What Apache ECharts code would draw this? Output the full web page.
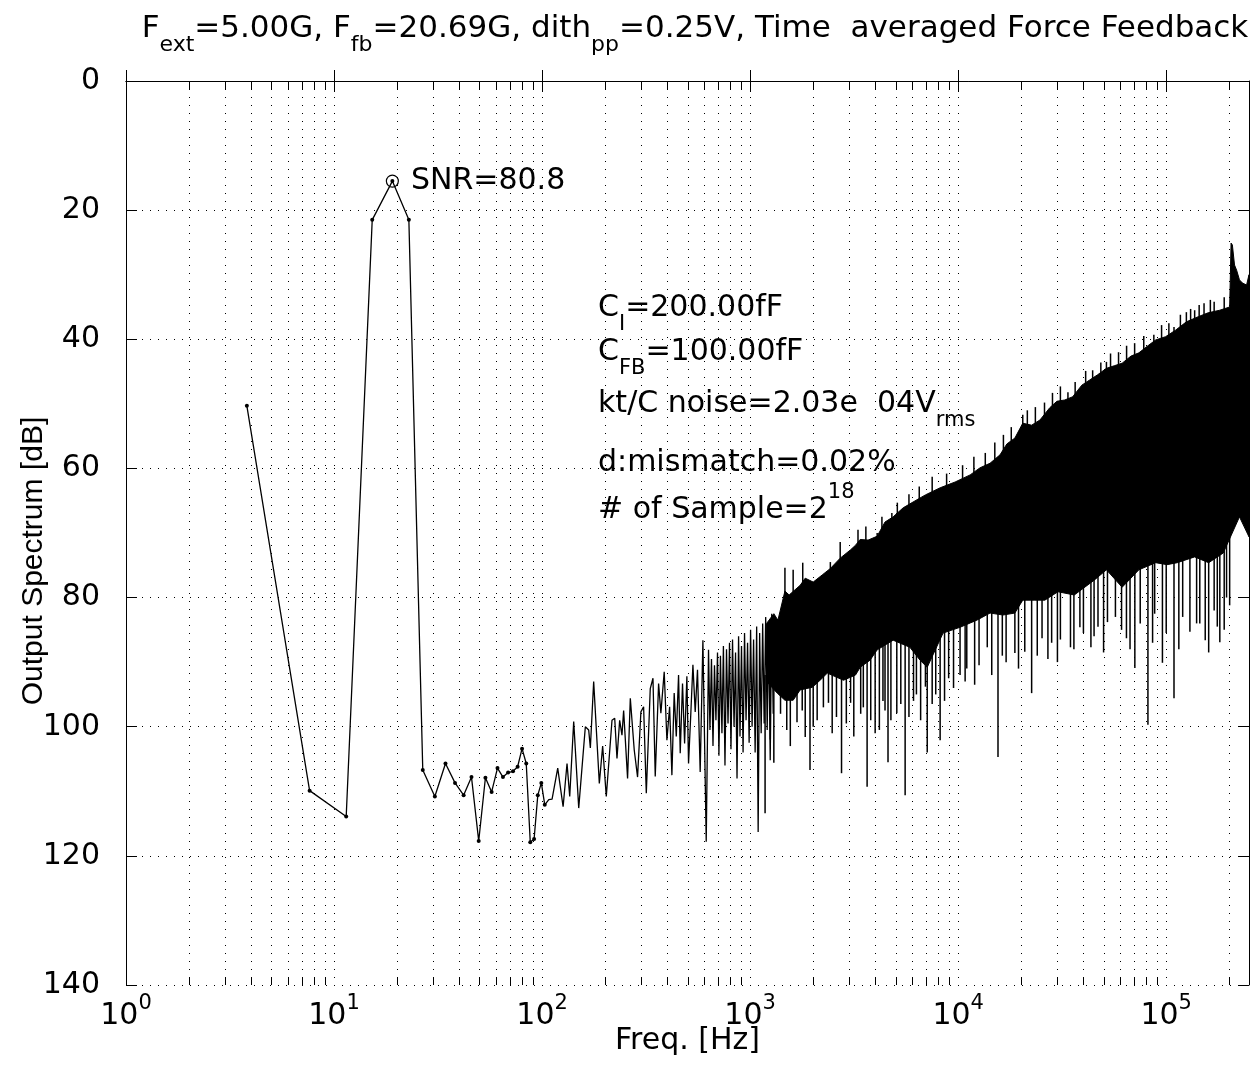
<!DOCTYPE html>
<html>
<head>
<meta charset="utf-8">
<script src="https://cdn.jsdelivr.net/npm/echarts@6/dist/echarts.min.js"></script>
<style>
  html, body { margin: 0; padding: 0; background: #fff; }
  #chart { width: 1251px; height: 1065px; }
</style>
</head>
<body>
<div id="chart"></div>
<script>
// FFT bins below ~100 Hz (each shown with a dot)
const lowFreq = [3.81, 7.63, 11.44, 15.26, 19.07, 22.89, 26.70, 30.52, 34.33, 38.15, 41.96, 45.78, 49.59,
  53.41, 57.22, 61.04, 64.85, 68.66, 72.48, 76.29, 80.11, 83.92, 87.74, 91.55, 95.37, 99.18, 103.0];
const lowDb = [50.3, 109.9, 113.9, 21.5, 15.5, 21.5, 106.7, 110.8, 105.7, 108.7, 110.6, 107.8, 117.7,
  107.9, 110.1, 106.4, 107.8, 107.1, 106.9, 106.2, 103.4, 105.7, 117.9, 117.4, 110.6, 108.7, 112.1];

// spectrum 100 Hz .. 1.3 kHz, read as a zigzag
const midFreq = [107.7, 111.7, 118.9, 126.2, 131.8, 135.8, 141.9, 150.0, 161.4, 167.5, 170.6, 177.0, 188.4,
  195.5, 203.5, 216.8, 223.4, 229.1, 236.0, 242.1, 246.6, 257.6, 265.5, 277.3, 287.7, 298.5, 307.6, 316.9,
  331.1, 341.2, 349.9, 363.1, 372.4, 386.4, 398.1, 410.2, 420.7, 431.5, 441.6, 452.9, 461.3, 473.2, 484.2,
  496.6, 505.8, 518.8, 530.9, 544.5, 558.5, 575.4, 592.9, 615.2, 631.0,
  641, 652, 663, 674, 685, 697, 708, 720, 732, 744, 757, 770, 783, 796, 809, 823, 837, 851, 865, 880,
  894, 909, 925, 940, 956, 972, 989, 1005, 1022, 1039, 1057, 1075, 1093, 1111, 1130, 1149, 1168, 1188,
  1208, 1228, 1249, 1270, 1291];
const midDb = [111.3, 111.2, 106.4, 112.4, 105.7, 110.8, 99.2, 112.6, 100.0, 100.5, 103.3, 93.0, 108.8,
  103.0, 110.8, 99.0, 98.7, 104.9, 99.0, 101.3, 97.5, 108.0, 95.6, 103.6, 107.8, 97.7, 96.9, 110.3,
  94.1, 92.5, 107.7, 93.3, 97.9, 91.5, 102.1, 96.9, 107.5, 94.8, 101.5, 92.0, 104.1, 93.3, 102.6,
  92.2, 105.7, 97.9, 90.4, 97.7, 91.2, 107.0, 86.6, 117.8, 88.1,
  100.5, 89.5, 103.0, 90.5, 99.0, 88.5, 104.5, 89.0, 101.0, 87.5, 106.0, 88.0, 99.5, 87.0, 103.5, 86.5,
  100.0, 88.5, 108.0, 86.0, 101.5, 87.5, 104.0, 85.5, 99.0, 87.0, 102.5, 85.0, 100.0, 86.5, 104.0, 84.5,
  116.3, 85.5, 101.0, 84.0, 99.5, 83.0, 100.5, 84.5, 105.2, 82.5, 98.0];

// dense noise above ~1.2 kHz: upper edge of the solid black band
const topFreq = [1200, 1300, 1360, 1470, 1540, 1740, 1840, 2010, 2220, 2430, 2710, 3040, 3210, 3380, 3690,
  4080, 4450, 4870, 5440, 6070, 6960, 8190, 9670, 11420, 12740, 14230, 15890, 17150, 18730, 20440, 22550,
  24720, 27560, 29820, 32550, 35520, 39310, 42890, 46790, 51600, 56280, 61420, 67740, 73900, 82470, 89010,
  99300, 110800, 125000, 142600, 159000, 180800, 201800, 205000, 208000, 213000, 218000, 225000, 232800,
  243400, 250000];
const topDb = [84.0, 82.5, 83.5, 79.0, 79.6, 78.1, 77.0, 77.6, 76.5, 75.5, 73.9, 72.6, 71.9, 71.0, 71.1,
  70.5, 68.3, 67.5, 66.1, 65.2, 64.1, 63.0, 62.1, 61.0, 59.9, 59.2, 57.9, 56.2, 55.3, 53.0, 53.3,
  52.5, 50.6, 49.6, 49.4, 48.9, 47.1, 46.3, 45.5, 44.5, 44.1, 43.7, 42.6, 42.1, 40.9, 40.1,
  39.6, 38.6, 37.3, 36.5, 35.9, 35.5, 35.0, 25.1, 25.4, 28.5, 29.3, 30.8, 31.3,
  31.6, 30.0];

// lower edge of the solid black band
const botFreq = [1200, 1350, 1470, 1610, 1740, 1990, 2170, 2350, 2810, 3210, 3380, 3770, 4080, 4870, 5860,
  6560, 7100, 8460, 10210, 12300, 14230, 16430, 18730, 20440, 23200, 26100, 30180, 36160, 45090, 51600,
  61420, 73900, 89010, 101000, 113000, 137000, 160000, 188000, 225000, 250000];
const botDb = [93.0, 94.8, 95.9, 95.9, 94.3, 93.9, 92.8, 91.7, 92.8, 92.0, 90.8, 89.7, 88.1, 86.6, 87.7,
  89.7, 90.8, 85.5, 84.6, 83.5, 82.4, 82.7, 82.4, 80.4, 80.4, 80.4, 79.1, 79.6, 77.3, 75.7,
  78.4, 75.7, 74.6, 74.9, 74.6, 73.7, 74.6, 73.1, 67.5, 70.6];

// downward spikes below the band (tip values)
const dipFreq = [1180, 1250, 1300, 1400, 1500, 1560, 1680, 1780, 1840, 1940, 2010, 2100, 2250, 2380, 2480,
  2600, 2750, 2900, 3040, 3150, 3400, 3500, 3650, 3800, 3990, 4180, 4350, 4450, 4600, 4750, 5070, 5300,
  5560, 5800, 6100, 6300, 6600, 6960, 7100, 7500, 7800, 8190, 8600, 9000, 9500, 10210, 10800, 11000,
  12000, 12600, 13800, 14500, 15540, 16300, 17000, 18730, 19500, 20900, 22550, 24000, 25300, 27000,
  28140, 30000, 31000, 34660, 36000, 38470, 40000, 43460, 45000, 47000, 50000, 52200, 57000, 61000,
  64400, 67000, 70670, 75000, 81680, 86000, 88000, 95900, 100000, 109000, 115000, 120000, 130000,
  140000, 145000, 154000, 160000, 170000, 176000, 181000, 190000, 195000, 201800];
const dipDb = [113.4, 102.0, 105.6, 98.0, 100.5, 103.0, 99.3, 97.5, 101.6, 106.7, 100.0, 99.0, 97.0, 96.3, 101.0,
  98.5, 107.2, 99.5, 96.3, 101.5, 98.0, 97.0, 109.3, 99.0, 101.0, 100.5, 96.0, 97.5, 105.5, 99.0, 97.9, 96.5,
  110.6, 98.5, 96.0, 95.0, 99.0, 93.8, 104.0, 96.5, 95.0, 102.1, 96.0, 92.5, 94.0, 92.0, 93.0, 91.0,
  93.5, 90.5, 87.7, 92.0, 104.7, 89.0, 90.0, 88.6, 91.0, 88.4, 94.8, 89.0, 86.3, 89.5,
  87.0, 90.0, 86.5, 87.7, 88.0, 84.6, 85.5, 87.7, 86.0, 84.5, 88.5, 83.8, 83.0, 85.0,
  86.3, 88.0, 90.9, 84.0, 99.7, 87.0, 82.5, 90.1, 85.5, 95.6, 88.0, 83.0, 85.3,
  84.0, 84.0, 86.6, 88.5, 82.0, 84.5, 86.9, 85.0, 80.0, 81.2];

// upward spikes above the band (tip values)
const peakSpikeFreq = [1470, 1610, 1790, 2430, 2710, 3300, 3600, 3770, 4080, 4300, 4800, 5100, 5800, 6500,
  7500, 8800, 10500, 11900, 13500, 15000, 16500, 18000, 20440, 21500, 23500, 26000, 28400, 31000, 33700,
  36500, 41000, 44300, 48500, 51600, 54000, 59000, 64500, 70500, 78000, 87200, 95000, 103000, 109000,
  117000, 125000, 131000, 137000, 144000, 152000, 163000, 170000, 190000];
const peakSpikeDb = [75.4, 75.7, 74.6, 74.5, 71.4, 69.5, 69.0, 71.5, 70.0, 67.5, 66.9, 65.3, 64.0, 62.8,
  61.3, 60.8, 59.5, 58.2, 57.6, 56.0, 54.8, 53.6, 51.7, 51.0, 50.5, 49.8, 48.3, 47.3, 48.2,
  46.6, 44.9, 44.8, 43.6, 43.5, 42.2, 42.0, 41.0, 40.6, 39.5, 39.3, 37.8, 37.5, 38.1,
  36.2, 35.8, 35.3, 35.5, 34.7, 34.4, 33.9, 34.2, 33.5];

// carrier peak
const peakFreq = 19.07;
const peakDb = 15.5;
const snrText = 'SNR=80.8';

// log-axis minor gridlines (2..9 per decade)
const minorTicks = [];
for (let d = 1; d <= 1e5; d *= 10) {
    for (let m = 2; m <= 9; m++) {
        if (m * d < 2.5e5) minorTicks.push(m * d);
    }
}

const FONT = '"DejaVu Sans", Helvetica, Arial, sans-serif';
const FONT_V = '"Liberation Sans", Helvetica, Arial, sans-serif';
const chart = echarts.init(document.getElementById('chart'));

const lineData = lowFreq.map((f, i) => ({ value: [f, lowDb[i]] }))
    .concat(midFreq.map((f, i) => ({ value: [f, midDb[i]], symbol: 'none' })));

// linear interpolation of an envelope in log-frequency
function envAt(freqs, dbs, f) {
    const lf = Math.log10(f);
    if (f <= freqs[0]) return dbs[0];
    for (let i = 1; i < freqs.length; i++) {
        if (f <= freqs[i]) {
            const a = Math.log10(freqs[i - 1]), b = Math.log10(freqs[i]);
            const t = (lf - a) / (b - a);
            return dbs[i - 1] + t * (dbs[i] - dbs[i - 1]);
        }
    }
    return dbs[dbs.length - 1];
}

const richText = (size, subSize) => ({
    n: { fontSize: size, fontFamily: FONT, fontWeight: 'normal', color: '#000', padding: [0, 0, 12, 0], verticalAlign: 'bottom' },
    d: { fontSize: subSize, fontFamily: FONT, fontWeight: 'normal', color: '#000', verticalAlign: 'bottom' },
    s: { fontSize: subSize, fontFamily: FONT, fontWeight: 'normal', color: '#000', verticalAlign: 'bottom', padding: [0, 0, 34, 0] }
});

// thin vertical spike from the band edge to the tip value
const spikeRenderer = (freqs, dbs, shift) => (params, api) => {
    const f = api.value(0);
    const tip = api.coord([f, api.value(1)]);
    const base = api.coord([f, envAt(freqs, dbs, f) + shift]);
    return {
        type: 'line',
        shape: { x1: tip[0], y1: tip[1], x2: base[0], y2: base[1] },
        style: { stroke: '#000', lineWidth: 1.5 }
    };
};

const option = {
    animation: false,
    backgroundColor: '#fff',
    textStyle: { fontFamily: FONT, color: '#000' },
    title: {
        left: 690,
        top: 8,
        textAlign: 'center',
        text: '{n|F}{d|ext}{n|=5.00G, F}{d|fb}{n|=20.69G, dith}{d|pp}{n|=0.25V, Time  averaged Force Feedback}',
        textStyle: { fontFamily: FONT, fontWeight: 'normal', rich: richText(31, 22) }
    },
    grid: { left: 126, top: 81, width: 1123, height: 904, outerBoundsMode: 'none', containLabel: false },
    xAxis: [{
        type: 'log',
        logBase: 10,
        min: 1,
        max: 2.5e5,
        name: 'Freq. [Hz]',
        nameLocation: 'middle',
        nameGap: 41,
        nameMoveOverlap: false,
        nameTextStyle: { fontSize: 30, fontFamily: FONT, color: '#000' },
        axisLine: { lineStyle: { color: '#000', width: 1 } },
        axisTick: { inside: true, length: 11, lineStyle: { color: '#000' } },
        axisLabel: {
            margin: 8,
            showMaxLabel: false,
            formatter: (v) => {
                const e = Math.round(Math.log10(v));
                if (Math.abs(Math.pow(10, e) - v) / v > 1e-6) return '';
                return '{b|10}{s|' + e + '}';
            },
            rich: {
                b: { fontSize: 30, fontFamily: FONT, color: '#000', verticalAlign: 'bottom' },
                s: { fontSize: 21, fontFamily: FONT, color: '#000', verticalAlign: 'bottom', padding: [0, 0, 17, 0] }
            }
        },
        splitLine: { show: true, lineStyle: { color: '#000', width: 1, type: [1, 7] } }
    }, {
        type: 'log',
        logBase: 10,
        min: 1,
        max: 2.5e5,
        position: 'top',
        axisLine: { lineStyle: { color: '#000', width: 1 } },
        axisTick: { inside: true, length: 11, lineStyle: { color: '#000' } },
        axisLabel: { show: false },
        splitLine: { show: false }
    }],
    yAxis: [{
        type: 'value',
        inverse: true,
        min: 0,
        max: 140,
        interval: 20,
        axisLine: { show: true, lineStyle: { color: '#000', width: 1 } },
        axisTick: { show: true, inside: true, length: 11, lineStyle: { color: '#000' } },
        axisLabel: { fontSize: 30, fontFamily: FONT, color: '#000', margin: 26 },
        splitLine: { show: true, lineStyle: { color: '#000', width: 1, type: [1, 7] } }
    }, {
        type: 'value',
        inverse: true,
        min: 0,
        max: 140,
        interval: 20,
        position: 'right',
        axisLine: { show: true, lineStyle: { color: '#000', width: 1 } },
        axisTick: { show: true, inside: true, length: 11, lineStyle: { color: '#000' } },
        axisLabel: { show: false },
        splitLine: { show: false }
    }],
    graphic: [
        {
            type: 'text', x: 34, y: 561, rotation: Math.PI / 2,
            style: { text: 'Output Spectrum [dB]', font: '30px ' + FONT_V, fill: '#000', align: 'center', verticalAlign: 'middle' }
        },
        ...[
            ['{n|C}{d|I}{n|=200.00fF}', 335],
            ['{n|C}{d|FB}{n|=100.00fF}', 379],
            ['{n|kt/C noise=2.03e  04V}{d|rms}', 431],
            ['{n|d:mismatch=0.02%}', 490],
            ['{n|# of Sample=2}{s|18}', 537]
        ].map(([t, y]) => ({
            type: 'text', x: 598, y: y,
            style: { text: t, fill: '#000', align: 'left', verticalAlign: 'bottom', rich: richText(30, 21) }
        }))
    ],
    series: [
        {
            // minor gridlines + minor ticks of the log axis
            type: 'custom',
            silent: true,
            z: 1,
            data: minorTicks.map(v => [v, 0]),
            renderItem: (params, api) => {
                const v = api.value(0);
                const top = api.coord([v, 0]);
                const bot = api.coord([v, 140]);
                const x = Math.round(top[0]) + 0.5;
                return {
                    type: 'group',
                    children: [
                        { type: 'line', shape: { x1: x, y1: top[1], x2: x, y2: bot[1] }, style: { stroke: '#000', lineWidth: 1, lineDash: [1, 7] } },
                        { type: 'line', shape: { x1: x, y1: bot[1], x2: x, y2: bot[1] - 8 }, style: { stroke: '#000', lineWidth: 1 } },
                        { type: 'line', shape: { x1: x, y1: top[1], x2: x, y2: top[1] + 8 }, style: { stroke: '#000', lineWidth: 1 } }
                    ]
                };
            }
        },
        {
            // dense noise band
            type: 'custom',
            silent: true,
            z: 3,
            clip: true,
            data: [[1000, 80]],
            renderItem: (params, api) => {
                const pts = [];
                topFreq.forEach((f, i) => pts.push(api.coord([f, topDb[i]])));
                for (let i = botFreq.length - 1; i >= 0; i--) pts.push(api.coord([botFreq[i], botDb[i]]));
                return {
                    type: 'polygon',
                    shape: { points: pts },
                    style: { fill: '#000', stroke: '#000', lineWidth: 1 }
                };
            }
        },
        {
            type: 'custom',
            silent: true,
            z: 3,
            clip: true,
            data: dipFreq.map((f, i) => [f, dipDb[i]]),
            renderItem: spikeRenderer(botFreq, botDb, -1)
        },
        {
            type: 'custom',
            silent: true,
            z: 3,
            clip: true,
            data: peakSpikeFreq.map((f, i) => [f, peakSpikeDb[i]]),
            renderItem: spikeRenderer(topFreq, topDb, 1)
        },
        {
            type: 'line',
            z: 4,
            data: lineData,
            symbol: 'circle',
            symbolSize: 4,
            showSymbol: true,
            lineStyle: { color: '#000', width: 1.3 },
            itemStyle: { color: '#000' }
        },
        {
            type: 'scatter',
            z: 5,
            data: [[peakFreq, peakDb]],
            symbol: 'circle',
            symbolSize: 12,
            itemStyle: { color: 'rgba(0,0,0,0)', borderColor: '#000', borderWidth: 1.2, opacity: 1 },
            label: {
                show: true,
                position: 'right',
                distance: 12,
                formatter: snrText,
                fontSize: 30,
                fontFamily: FONT,
                color: '#000'
            }
        }
    ]
};

chart.setOption(option);
</script>
</body>
</html>
